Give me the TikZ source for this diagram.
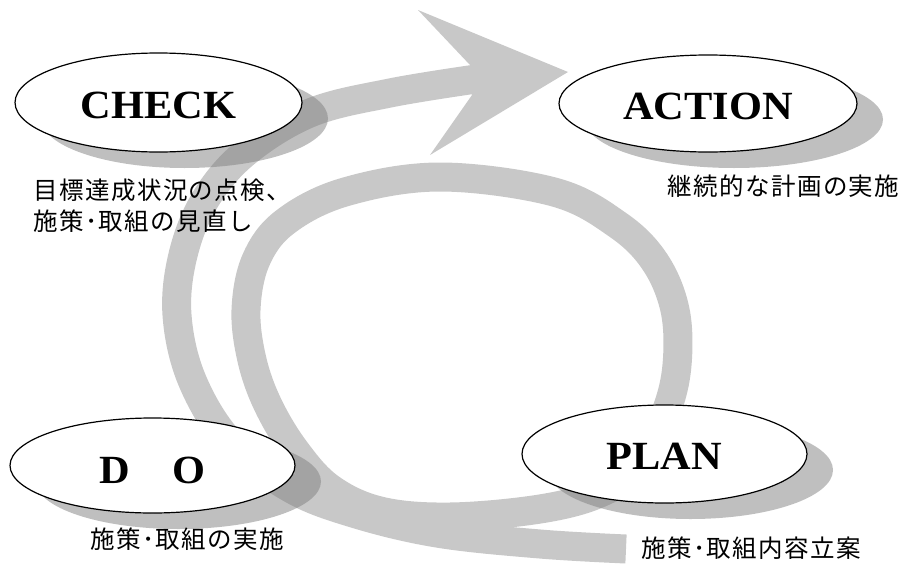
\documentclass[tikz,border=0pt]{standalone}
\usepackage{fontspec}
\setmainfont{Liberation Serif}
\newfontfamily\jpfont[LetterSpace=6]{Noto Sans CJK JP}
\newfontfamily\latinbold[FakeStretch=1.06]{Liberation Serif Bold}
\usetikzlibrary{shapes.geometric,shadows}
\definecolor{bandgray}{RGB}{200,200,200}
\tikzset{
  band/.style={draw=bandgray, line width=29pt, line join=round, line cap=butt},
  ell/.style={ellipse, draw=black, line width=1.2pt, fill=white, inner sep=0pt,
    font=\fontsize{40}{40}\latinbold, text height=31.5pt, text depth=0pt,
    drop shadow={shadow xshift=26pt, shadow yshift=-16pt, opacity=0.5, fill=black!50}},
  captxt/.style={font=\fontsize{24.5}{31}\jpfont, inner sep=0pt, anchor=west, align=left}
}
\begin{document}
\begin{tikzpicture}[x=1pt,y=-1pt]
\useasboundingbox (0,0) rectangle (908,565);
% outer spiral band with arrow
\draw[band] plot[smooth, tension=0.6] coordinates {
  (626,549) (540,544) (437,533) (353,513) (290,488)
  (230,442) (192,380) (177,315) (183,255) (205,200)
  (245,153) (310,113) (390,93) (476,79)};
\fill[bandgray] (470,65) -- (418,10) -- (568,72) -- (430,155) -- (472,95) -- cycle;
% inner loop band
\draw[band] plot[smooth cycle, tension=0.6] coordinates {
  (246,310) (256,260) (285,222) (345,192) (440,177)
  (554,192) (618,225) (655,262) (675,310) (677,365) (666,412)
  (640,465) (600,493) (540,509) (450,517) (380,511)
  (330,488) (295,450) (268,405) (252,360)};
% ellipses
\node[ell, minimum width=287pt, minimum height=99pt] (check) at (158.5,102.5) {CHECK};
\node[ell, minimum width=298pt, minimum height=97pt] (action) at (708,103.5) {ACTION};
\node[ell, minimum width=285pt, minimum height=95pt, text height=36pt] (do) at (152.5,465.5) {D\hspace{42pt}O};
\node[ell, minimum width=285pt, minimum height=98pt] (plan) at (664.5,454) {PLAN};
% captions
\node[captxt] (checkcap) at (33,205.5) {目標達成状況の点検、\\施策･取組の見直し};
\node[captxt] (actioncap) at (667,186) {継続的な計画の実施};
\node[captxt] (docap) at (90,539) {施策･取組の実施};
\node[captxt] (plancap) at (641,548) {施策･取組内容立案};
\end{tikzpicture}
\end{document}
